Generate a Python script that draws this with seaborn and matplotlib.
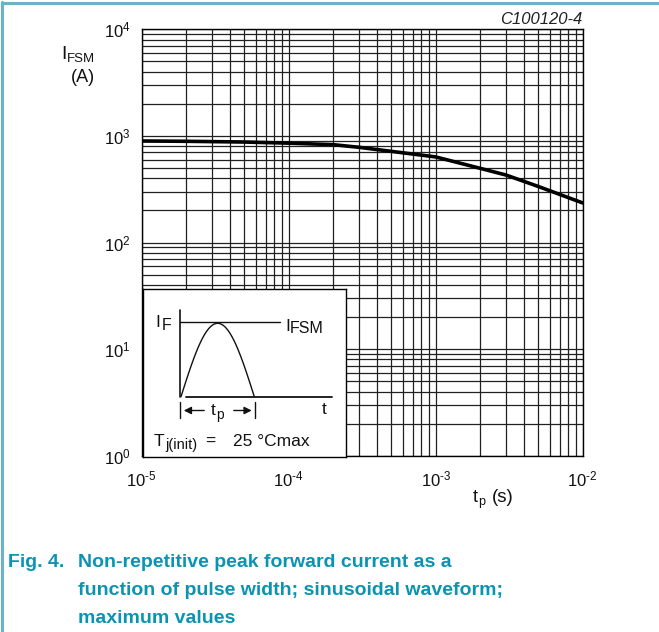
import numpy as np
import pandas as pd
import matplotlib
matplotlib.use("Agg")
import matplotlib.pyplot as plt
import seaborn as sns
from matplotlib.lines import Line2D
from matplotlib.ticker import LogLocator, FuncFormatter, NullFormatter

# ---- data ----
tp_s = [1e-5, 2e-5, 5e-5, 1e-4, 2e-4, 3e-4, 5e-4, 1e-3, 2e-3, 3e-3, 5e-3, 1e-2]
ifsm_a = [896, 890, 876, 855, 828, 782, 716, 635, 497, 430, 335, 235]
x_ticks = [1e-5, 1e-4, 1e-3, 1e-2]
y_ticks = [1e0, 1e1, 1e2, 1e3, 1e4]

sns.set_theme(style="white")
plt.rcParams["font.family"] = ["Liberation Sans", "DejaVu Sans"]
plt.rcParams["mathtext.fontset"] = "custom"
plt.rcParams["mathtext.rm"] = "Liberation Sans"
plt.rcParams["mathtext.it"] = "Liberation Sans:italic"
plt.rcParams["mathtext.bf"] = "Liberation Sans:bold"

W, H = 659, 632
fig = plt.figure(figsize=(W / 100, H / 100), dpi=100)
fig.patch.set_facecolor("white")

def fx(px):
    return px / W

def fy(py):
    return 1 - py / H

L, R, T, B = 141.7, 582.7, 29.3, 455.7
ax = fig.add_axes([fx(L), fy(B), (R - L) / W, (B - T) / H])

df = pd.DataFrame({"tp": tp_s, "ifsm": ifsm_a})
sns.lineplot(data=df, x="tp", y="ifsm", ax=ax, color="black", lw=2.6, zorder=5)

ax.set_xscale("log")
ax.set_yscale("log")
ax.set_xlim(x_ticks[0], x_ticks[-1])
ax.set_ylim(y_ticks[0], y_ticks[-1])
ax.set_xticks(x_ticks)
ax.set_yticks(y_ticks)
ax.xaxis.set_minor_locator(LogLocator(base=10, subs=np.arange(2, 10)))
ax.yaxis.set_minor_locator(LogLocator(base=10, subs=np.arange(2, 10)))


def _fmt(v, p):
    e = int(round(np.log10(v)))
    if e < 0:
        return r"$\mathrm{10^{\text{-}%d}}$" % (-e)
    return r"$\mathrm{10^{%d}}$" % e


fmt = FuncFormatter(_fmt)
ax.xaxis.set_major_formatter(fmt)
ax.yaxis.set_major_formatter(fmt)
ax.xaxis.set_minor_formatter(NullFormatter())
ax.yaxis.set_minor_formatter(NullFormatter())
ax.grid(which="both", color="#202020", lw=0.9)
ax.set_axisbelow(True)
ax.tick_params(which="both", length=0, labelsize=12, colors="#111111")
ax.tick_params(axis="y", pad=8)
ax.tick_params(axis="x", pad=10)
for s in ax.spines.values():
    s.set_color("black")
    s.set_linewidth(1.0)
ax.set_xlabel("")
ax.set_ylabel("")

# axis labels
fig.text(fx(61.5), fy(59), "I", fontsize=14, ha="left", va="baseline", color="#111111")
fig.text(fx(66.5), fy(62.5), "FSM", fontsize=9.5, ha="left", va="baseline", color="#111111")
fig.text(fx(83), fy(77.5), "(A)", fontsize=13, ha="center", va="center", color="#111111")
fig.text(fx(473), fy(502), "t", fontsize=13, ha="left", va="baseline", color="#111111")
fig.text(fx(478.5), fy(505), "p", fontsize=9, ha="left", va="baseline", color="#111111")
fig.text(fx(492), fy(502), "(s)", fontsize=13.5, ha="left", va="baseline", color="#111111")
fig.text(fx(582), fy(20), "C100120-4", fontsize=12, style="italic", ha="right",
         va="center", color="#222222")

# inset schematic (positions in pixel units of the inset box)
iL, iR, iT, iB = 142.7, 345.7, 289, 457
ins = fig.add_axes([fx(iL), fy(iB), (iR - iL) / W, (iB - iT) / H])
ins.set_xlim(iL, iR)
ins.set_ylim(iB, iT)
ins.set_facecolor("white")
ins.set_xticks([])
ins.set_yticks([])
for s in ins.spines.values():
    s.set_color("black")
    s.set_linewidth(1.0)
k = "#111111"
ins.plot([180, 180], [310, 397], color=k, lw=1.2)
ins.plot([180, 280], [322.3, 322.3], color=k, lw=1.0)
ins.plot([186, 332], [396.5, 396.5], color=k, lw=1.3)
th = np.linspace(0, np.pi, 100)
ins.plot(181 + (254.3 - 181) * th / np.pi, 396.7 - (396.7 - 323.3) * np.sin(th), color=k, lw=1.0)
ins.plot([180, 180], [401.7, 418.3], color=k, lw=1.0)
ins.plot([255.3, 255.3], [401.7, 418.3], color=k, lw=1.0)
ins.annotate("", xy=(181, 410.5), xytext=(207, 410.5),
             arrowprops=dict(arrowstyle="-|>", color=k, lw=1.0, mutation_scale=11))
ins.annotate("", xy=(254.5, 410.5), xytext=(231, 410.5),
             arrowprops=dict(arrowstyle="-|>", color=k, lw=1.0, mutation_scale=11))
ins.text(211, 415, "t", fontsize=12.5, ha="left", va="baseline", color=k)
ins.text(216.5, 419.5, "p", fontsize=10, ha="left", va="baseline", color=k)
ins.text(155, 327, "I", fontsize=12.5, ha="left", va="baseline", color=k)
ins.text(161.5, 330, "F", fontsize=11.5, ha="left", va="baseline", color=k)
ins.text(285, 331, "I", fontsize=12.5, ha="left", va="baseline", color=k)
ins.text(290, 333, "FSM", fontsize=11.5, ha="left", va="baseline", color=k)
ins.text(324, 410, "t", fontsize=12.5, ha="center", va="center", color=k)
ins.text(154, 446, "T", fontsize=12.5, ha="left", va="baseline", color=k)
ins.text(165.5, 449.5, "j(init)", fontsize=10.5, ha="left", va="baseline", color=k)
ins.text(205, 446, "=", fontsize=12.5, ha="left", va="baseline", color=k)
ins.text(233, 446, "25 °Cmax", fontsize=12.5, ha="left", va="baseline", color=k)

# caption
cap = "#0a94b2"
fig.text(fx(8), fy(567), "Fig. 4.", fontsize=14, fontweight="bold", color=cap,
         ha="left", va="baseline")
cap_lines = ["Non-repetitive peak forward current as a",
             "function of pulse width; sinusoidal waveform;",
             "maximum values"]
for i, line in enumerate(cap_lines):
    fig.text(fx(78), fy(567 + 28 * i), line, fontsize=14, fontweight="bold",
             color=cap, ha="left", va="baseline")

# page frame lines
fig.add_artist(Line2D([fx(2), fx(2)], [0, fy(2)], color="#6db3c6", lw=2.2))
fig.add_artist(Line2D([fx(2), 1], [fy(2.5), fy(2.5)], color="#6db3c6", lw=2.2))

fig.savefig("out.png", dpi=100)
